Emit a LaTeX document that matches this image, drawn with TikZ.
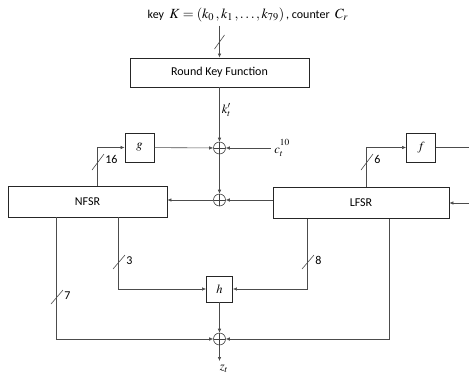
\documentclass[tikz,border=0pt]{standalone}
\usepackage{mathptmx}
\usepackage[no-math]{fontspec}
\setmainfont{Carlito}
\usetikzlibrary{arrows.meta,positioning,calc}
\begin{document}
\begin{tikzpicture}[x=1pt,y=-1pt,
  every node/.style={font=\fontsize{12}{14}\selectfont},
  wire/.style={draw=black!70,line width=0.6pt},
  blk/.style={draw=black!85,line width=0.8pt,inner sep=0pt},
  xor/.style={draw=black!75,line width=0.6pt,circle,minimum size=12pt,inner sep=0pt,
    path picture={\draw[black!75,line width=0.6pt]
      (path picture bounding box.north) -- (path picture bounding box.south)
      (path picture bounding box.west) -- (path picture bounding box.east);}},
  lbl/.style={anchor=north west,inner sep=1pt},
  mth/.style={font=\fontsize{12.5}{14}\selectfont},
  >={Latex[length=4pt,width=3.5pt]}]
\useasboundingbox (0,0) rectangle (469,375);
% blocks
\node (title) at (248,15) {key\ \ {\fontsize{14}{15}\selectfont$K=(k_0\,,k_1\,,\ldots,k_{79})$}\,, counter\ \ {\fontsize{14}{15}\selectfont$C_r$}};
\node[blk,minimum width=179pt,minimum height=29pt] (rkf) at (219.5,72.5) {Round Key Function};
\node[blk,minimum width=159pt,minimum height=31pt] (nfsr) at (87.5,201.5) {NFSR};
\node[blk,minimum width=176pt,minimum height=31pt] (lfsr) at (361,203) {LFSR};
\node[blk,mth,minimum size=29pt] (g) at (139.5,147.5) {$g$};
\node[blk,mth,minimum size=29pt] (f) at (421,147.5) {$f$};
\node[blk,mth,minimum size=26pt] (h) at (219.5,289) {$h$};
% xors
\node[xor] (x1) at (219.5,148) {};
\node[xor] (x2) at (219.5,200) {};
\node[xor] (x3) at (219.5,339) {};
\node[mth] (ct) at (282,148) {$c_t^{\raisebox{2.5pt}{$\scriptstyle 10$}}$};
\node[mth] (zt) at (224,369) {$z_t$};
\coordinate (zend) at (219.5,361);
\coordinate (fout) at (469,147.5);
\coordinate (lin) at (469,203);
% connections
\draw[wire,->] (rkf.north |- title.south) -- (rkf);
\draw[wire,->] (rkf) -- node[mth,right,pos=0.42,inner sep=2pt] {$k_t'$} (x1);
\draw[wire,->] (ct.west |- x1) -- (x1);
\draw[wire,->] (g) -- (x1);
\draw[wire,->] (x1) -- (x2);
\draw[wire,->] (x2) -- (nfsr.east |- x2);
\draw[wire,->] (lfsr.west |- x2) -- (x2);
\draw[wire,->] ($(nfsr.north west)+(90,0)$) |- (g);
\draw[wire,->] ($(lfsr.north west)+(94,0)$) |- (f);
\draw[wire] (f) -- (fout);
\draw[wire,->] (lin) -- (lfsr.east |- lin);
\draw[wire,->] ($(nfsr.south west)+(49,0)$) |- (x3);
\draw[wire,->] ($(nfsr.south west)+(111,0)$) |- (h);
\draw[wire,->] ($(lfsr.south west)+(35,0)$) |- (h);
\draw[wire,->] ($(lfsr.south west)+(117,0)$) |- (x3);
\draw[wire,->] (h) -- (x3);
\draw[wire,->] (x3) -- (zend);
% bus widths
\draw[wire] (219.5,42) ++(-5,7) -- ++(10,-14);
\draw[wire] (98,162) ++(-6,8) -- ++(12,-16) node[lbl] {16};
\draw[wire] (367,162) ++(-6,8) -- ++(12,-16) node[lbl] {6};
\draw[wire] (119,262) ++(-6,7) -- ++(12,-14) node[lbl] {3};
\draw[wire] (308,262) ++(-6,7) -- ++(12,-14) node[lbl] {8};
\draw[wire] (57,297) ++(-6,7) -- ++(12,-14) node[lbl] {7};
\end{tikzpicture}
\end{document}
